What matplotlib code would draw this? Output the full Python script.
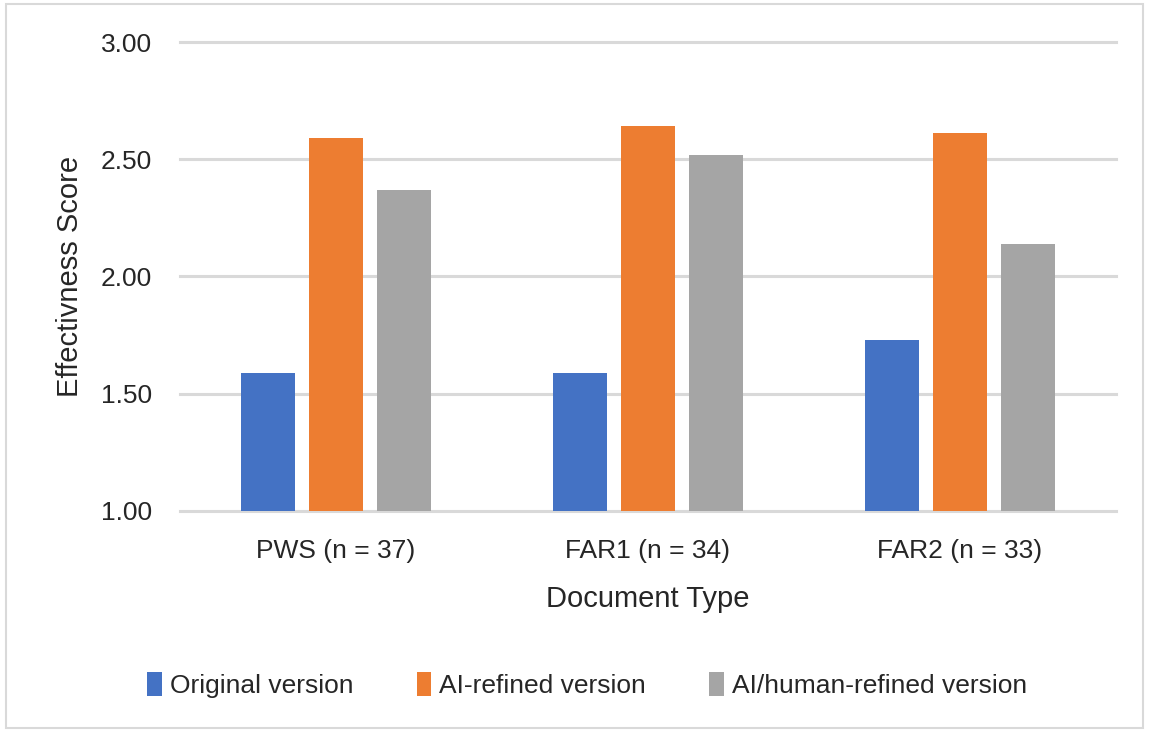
import numpy as np
import matplotlib.pyplot as plt
from matplotlib.patches import Rectangle

plt.rcParams['font.family'] = ['Liberation Sans', 'DejaVu Sans']

# Mean effectiveness score per document type and version
categories = ['PWS (n = 37)', 'FAR1 (n = 34)', 'FAR2 (n = 33)']
series_names = ['Original version', 'AI-refined version', 'AI/human-refined version']
original = [1.59, 1.59, 1.73]
ai_refined = [2.59, 2.64, 2.61]
ai_human_refined = [2.37, 2.52, 2.14]
colors = ['#4472C4', '#ED7D31', '#A5A5A5']
yticks = [1.0, 1.5, 2.0, 2.5, 3.0]

fig = plt.figure(figsize=(11.49, 7.32), dpi=100)
ax = fig.add_axes([0.1567, 0.302, 0.8143, 0.6406])

x = np.arange(len(categories))
width = 0.173
step = 0.218
for i, (vals, name) in enumerate(zip([original, ai_refined, ai_human_refined], series_names)):
    ax.bar(x + (i - 1) * step, np.array(vals) - 1.0, width, bottom=1.0,
           color=colors[i], label=name, zorder=3)

ax.set_ylim(1.0, 3.0)
ax.set_xlim(-0.5, 2.5)
ax.set_yticks(yticks)
ax.set_yticklabels([f'{v:.2f}' for v in yticks])
ax.set_xticks(x)
ax.set_xticklabels(categories)
ax.grid(axis='y', color='#d9d9d9', linewidth=2.2, zorder=0)
for gl in ax.get_ygridlines():
    gl.set_clip_on(False)
for s in ax.spines.values():
    s.set_visible(False)
ax.tick_params(length=0, labelsize=19, colors='#262626')
ax.tick_params(axis='x', pad=20)
ax.tick_params(axis='y', pad=20)

ax.set_ylabel('Effectivness Score', fontsize=21, color='#262626', labelpad=12)
ax.set_xlabel('Document Type', fontsize=21, color='#262626', labelpad=16)

fig.legend(*ax.get_legend_handles_labels(), loc='center', bbox_to_anchor=(0.511, 0.064),
           ncol=3, frameon=False, fontsize=19, handlelength=0.55, handleheight=1.0,
           handletextpad=0.3, columnspacing=2.4, labelcolor='#262626')

# thin frame around the whole chart
fig.patches.append(Rectangle((0.005, 0.006), 0.99, 0.988, transform=fig.transFigure,
                             fill=False, edgecolor='#d9d9d9', linewidth=1.5))

fig.savefig('out.png', dpi=100)
